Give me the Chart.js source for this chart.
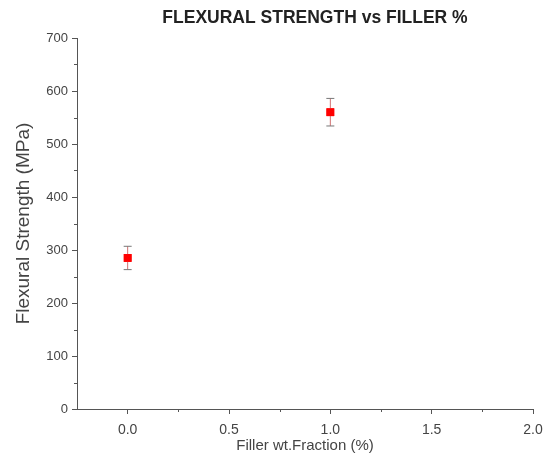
<!DOCTYPE html>
<html>
<head>
<meta charset="utf-8">
<script src="https://cdn.jsdelivr.net/npm/chart.js@4.4.1/dist/chart.umd.min.js"></script>
<style>
  body { margin: 0; background: #fff; }
  #wrap { width: 555px; height: 471px; position: relative; }
</style>
</head>
<body>
<div id="wrap"><canvas id="flexChart"></canvas></div>
<script>
// data
const fillerPct = [0.0, 1.0];
const strength = [285, 560];
const strengthErr = [22, 26];
const xTicks = [0.0, 0.5, 1.0, 1.5, 2.0];
const yTicks = [0, 100, 200, 300, 400, 500, 600, 700];
const chartTitle = 'FLEXURAL STRENGTH vs FILLER %';

const axisColor = '#555';
const textColor = '#444';
const fontFamily = '"Liberation Sans", Arial, sans-serif';

// error bars drawn via the scales
const errorBars = {
    id: 'errorBars',
    afterDatasetsDraw(chart) {
        const { ctx, scales: { x, y } } = chart;
        ctx.save();
        fillerPct.forEach((v, i) => {
            const px = x.getPixelForValue(v);
            const top = y.getPixelForValue(strength[i] + strengthErr[i]);
            const bot = y.getPixelForValue(strength[i] - strengthErr[i]);
            ctx.strokeStyle = '#d07070';
            ctx.lineWidth = 1;
            ctx.beginPath();
            ctx.moveTo(px, top);
            ctx.lineTo(px, bot);
            ctx.stroke();
            ctx.strokeStyle = '#777';
            ctx.beginPath();
            ctx.moveTo(px - 4, top);
            ctx.lineTo(px + 4, top);
            ctx.moveTo(px - 4, bot);
            ctx.lineTo(px + 4, bot);
            ctx.stroke();
        });
        // redraw markers on top
        chart.getDatasetMeta(0).data.forEach(pt => pt.draw(ctx, chart.chartArea));
        ctx.restore();
    }
};

// minor ticks between the labelled ones + the title (sits a bit right of centre)
const extras = {
    id: 'extras',
    afterDraw(chart) {
        const { ctx, chartArea, scales: { x, y } } = chart;
        ctx.save();
        ctx.strokeStyle = axisColor;
        ctx.lineWidth = 1;
        ctx.beginPath();
        for (let i = 0; i < xTicks.length - 1; i++) {
            const px = Math.round(x.getPixelForValue((xTicks[i] + xTicks[i + 1]) / 2)) + 0.5;
            ctx.moveTo(px, x.top);
            ctx.lineTo(px, x.top + 3);
        }
        for (let i = 0; i < yTicks.length - 1; i++) {
            const py = Math.round(y.getPixelForValue((yTicks[i] + yTicks[i + 1]) / 2)) + 0.5;
            ctx.moveTo(y.right, py);
            ctx.lineTo(y.right - 3, py);
        }
        ctx.stroke();

        ctx.fillStyle = '#222';
        ctx.font = 'bold 17.5px ' + fontFamily;
        ctx.textAlign = 'center';
        ctx.textBaseline = 'middle';
        ctx.fillText(chartTitle, (chartArea.left + chartArea.right) / 2 + 10, 18);
        ctx.restore();
    }
};

new Chart(document.getElementById('flexChart'), {
    type: 'scatter',
    data: {
        datasets: [{
            data: fillerPct.map((v, i) => ({ x: v, y: strength[i] })),
            pointStyle: 'rect',
            pointRadius: 5.5,
            backgroundColor: '#ff0000',
            borderColor: '#ff0000',
            borderWidth: 0
        }]
    },
    options: {
        responsive: true,
        maintainAspectRatio: false,
        animation: false,
        layout: { padding: { left: 0, right: 22, top: 38, bottom: 0 } },
        plugins: {
            legend: { display: false },
            tooltip: { enabled: false },
            title: { display: false }
        },
        scales: {
            x: {
                type: 'linear',
                min: -0.25,
                max: 2.0,
                afterBuildTicks: s => { s.ticks = xTicks.map(v => ({ value: v })); },
                afterFit: s => { s.height = 62; },
                grid: { drawOnChartArea: false, tickLength: 5, color: axisColor, tickColor: axisColor },
                border: { color: axisColor, width: 1 },
                ticks: {
                    color: textColor,
                    padding: 8,
                    font: { family: fontFamily, size: 14 },
                    callback: v => v.toFixed(1)
                },
                title: {
                    display: true,
                    text: 'Filler wt.Fraction (%)',
                    color: textColor,
                    font: { family: fontFamily, size: 15 },
                    padding: { top: 0, bottom: 16 }
                }
            },
            y: {
                min: 0,
                max: 700,
                afterBuildTicks: s => { s.ticks = yTicks.map(v => ({ value: v })); },
                afterFit: s => { s.width = 77; },
                grid: { drawOnChartArea: false, tickLength: 5, color: axisColor, tickColor: axisColor },
                border: { color: axisColor, width: 1 },
                ticks: {
                    color: textColor,
                    padding: 4,
                    font: { family: fontFamily, size: 13 }
                },
                title: {
                    display: true,
                    text: 'Flexural Strength (MPa)',
                    color: textColor,
                    font: { family: fontFamily, size: 19 },
                    padding: { top: 12, bottom: 0 }
                }
            }
        }
    },
    plugins: [errorBars, extras]
});
</script>
</body>
</html>
